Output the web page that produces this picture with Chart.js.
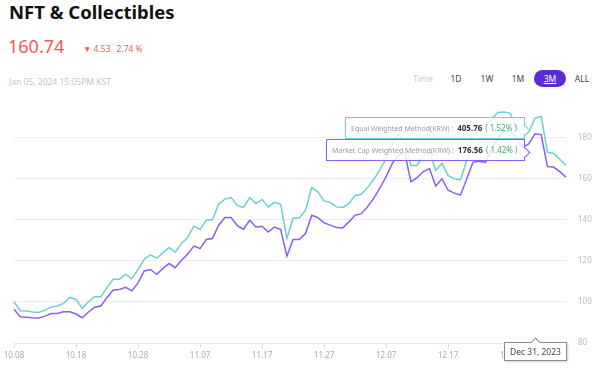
<!DOCTYPE html>
<html>
<head>
<meta charset="utf-8">
<script src="https://cdn.jsdelivr.net/npm/chart.js@4.4.1/dist/chart.umd.min.js"></script>
<style>
  body { margin: 0; width: 599px; height: 373px; background: #fff; font-family: "Noto Sans", sans-serif; position: relative; overflow: hidden; }
  #title { position: absolute; left: 9px; top: -1px; font-size: 18.5px; font-weight: bold; color: #111; }
  #price { position: absolute; left: 8px; top: 34px; font-size: 18px; color: #f05a5a; }
  #change { position: absolute; left: 83px; top: 43px; font-size: 8.5px; color: #f05a5a; }
  #change span { margin-right: 6px; }
  #stamp { position: absolute; left: 9px; top: 76px; font-size: 8.5px; color: #c4c4c4; }
  .btn { position: absolute; top: 70px; height: 17px; line-height: 17px; font-size: 8.5px; color: #444; text-align: center; }
  .btn.off { color: #ccc; }
  .btn.on { background: #5b2bd6; color: #fff; border-radius: 9px; text-decoration: underline; }
  #wrap { position: absolute; left: 0; top: 86px; width: 599px; height: 287px; }
  .tip { position: absolute; height: 22px; box-sizing: border-box; background: rgba(255,255,255,0.82); border: 1.5px solid; font-size: 8px; line-height: 19px; padding: 0 7px 0 5px; white-space: nowrap; }
  .tip::after { content: ''; position: absolute; right: -5px; top: 9px; width: 6px; height: 6px; background: #fff; border-right: 1.5px solid; border-top: 1.5px solid; border-color: inherit; transform: rotate(45deg); }
  .tip .k { color: #9a9a9a; font-size: 7px; }
  .tip .v { color: #333; font-weight: bold; margin-left: 4px; }
  .tip .p { color: #3dae6e; margin-left: 3px; }
  #tipA { border-color: #6dcfd2; }
  #tipB { border-color: #8b5cf6; }
  #dateTip { position: absolute; height: 19px; box-sizing: border-box; background: #fff; border: 1px solid #8c8c8c; box-shadow: 1px 1px 2px rgba(0,0,0,0.18); font-size: 8.5px; line-height: 17px; color: #444; padding: 0 5px; white-space: nowrap; }
  #dateTip::before { content: ''; position: absolute; left: 27px; top: -4px; width: 6px; height: 6px; background: #fff; border-left: 1px solid #8c8c8c; border-top: 1px solid #8c8c8c; transform: rotate(45deg); }
</style>
</head>
<body>
<div id="title">NFT &amp; Collectibles</div>
<div id="price">160.74</div>
<div id="change"><span>▼ 4.53</span><span>2.74 %</span></div>
<div id="stamp">Jan 05, 2024 15:05PM KST</div>
<div class="btn off" style="left:411px;width:24px">Time</div>
<div class="btn" style="left:446px;width:20px">1D</div>
<div class="btn" style="left:477px;width:20px">1W</div>
<div class="btn" style="left:508px;width:20px">1M</div>
<div class="btn on" style="left:534px;width:32px">3M</div>
<div class="btn" style="left:572px;width:20px">ALL</div>
<div id="wrap"><canvas id="nftChart"></canvas></div>
<div class="tip" id="tipA"><span class="k">Equal Weighted Method(KRW) :</span><span class="v">405.76</span><span class="p">( 1.52% )</span></div>
<div class="tip" id="tipB"><span class="k">Market Cap Weighted Method(KRW) :</span><span class="v">176.56</span><span class="p">( 1.42% )</span></div>
<div id="dateTip">Dec 31, 2023</div>
<script>
const dates = [
  '10.08','10.09','10.10','10.11','10.12','10.13','10.14','10.15','10.16','10.17','10.18','10.19','10.20','10.21','10.22','10.23','10.24','10.25','10.26','10.27','10.28','10.29','10.30','10.31',
  '11.01','11.02','11.03','11.04','11.05','11.06','11.07','11.08','11.09','11.10','11.11','11.12','11.13','11.14','11.15','11.16','11.17','11.18','11.19','11.20','11.21','11.22','11.23','11.24','11.25','11.26','11.27','11.28','11.29','11.30',
  '12.01','12.02','12.03','12.04','12.05','12.06','12.07','12.08','12.09','12.10','12.11','12.12','12.13','12.14','12.15','12.16','12.17','12.18','12.19','12.20','12.21','12.22','12.23','12.24','12.25','12.26','12.27','12.28','12.29','12.30','12.31',
  '01.01','01.02','01.03','01.04','01.05'
];
const tickLabels = ['10.08','10.18','10.28','11.07','11.17','11.27','12.07','12.17','12.27'];
const yTicks = [80, 100, 120, 140, 160, 180];

// equal weighted (teal) and market cap weighted (purple), daily
const equalWeighted = [
  100.1, 95.7, 95.6, 95.1, 94.9, 96.0, 97.6, 98.0, 99.3, 102.2,
  101.2, 96.9, 100.1, 102.5, 102.5, 107.1, 111.0, 111.1, 113.5, 111.3,
  115.8, 120.8, 122.9, 121.3, 123.9, 126.5, 124.2, 128.5, 131.4, 136.9,
  135.3, 139.8, 140.1, 147.6, 150.1, 150.8, 147.0, 146.0, 150.8, 147.9,
  149.9, 146.3, 148.5, 147.6, 130.9, 140.9, 140.9, 144.7, 155.7, 153.6,
  149.2, 148.5, 146.3, 146.0, 147.9, 151.9, 152.4, 155.7, 159.6, 164.4,
  169.8, 177.1, 182.0, 178.0, 166.5, 166.5, 171.4, 173.0, 164.0, 167.5,
  161.5, 160.0, 159.5, 169.0, 181.0, 184.0, 186.0, 189.0, 192.3, 192.5,
  192.0, 185.0, 181.5, 182.7, 189.5, 190.3, 173.0, 172.3, 169.5, 166.5
];
const marketCapWeighted = [
  96.4, 92.8, 92.6, 92.3, 92.2, 93.1, 94.4, 94.4, 95.2, 95.2,
  94.1, 92.3, 95.1, 97.4, 98.0, 102.2, 105.8, 106.1, 107.1, 105.4,
  109.3, 115.1, 115.8, 113.5, 116.3, 118.7, 116.7, 120.3, 123.3, 127.2,
  126.0, 130.4, 130.9, 137.4, 141.1, 141.1, 137.2, 135.4, 139.8, 136.5,
  136.9, 134.1, 136.5, 135.3, 122.3, 130.4, 130.4, 133.3, 142.2, 141.1,
  138.5, 137.4, 136.2, 136.0, 139.0, 142.2, 143.0, 146.3, 150.5, 155.5,
  161.0, 167.5, 171.5, 172.5, 158.5, 160.5, 163.5, 165.0, 156.5, 160.0,
  154.4, 153.0, 152.0, 160.0, 168.0, 168.5, 168.0, 174.0, 180.0, 183.0,
  183.0, 180.0, 175.4, 177.0, 181.9, 181.5, 166.0, 165.7, 163.5, 160.74
];
const hoverDate = '12.31';

// place the hover boxes against the scale position of the hovered day
const hoverBoxes = {
  id: 'hoverBoxes',
  afterRender(chart) {
    const top = 86;
    const x = chart.scales.x.getPixelForValue(dates.indexOf(hoverDate));
    const y180 = chart.scales.y.getPixelForValue(180);
    const area = chart.chartArea;
    const a = document.getElementById('tipA');
    const b = document.getElementById('tipB');
    const d = document.getElementById('dateTip');
    a.style.left = (x - 10 - a.offsetWidth) + 'px';
    a.style.top = (top + y180 - 21) + 'px';
    b.style.left = (x - 10 - b.offsetWidth) + 'px';
    b.style.top = (top + y180 + 1) + 'px';
    d.style.left = (x - 31) + 'px';
    d.style.top = (top + area.bottom - 1) + 'px';
  }
};

const ctx = document.getElementById('nftChart').getContext('2d');
new Chart(ctx, {
  type: 'line',
  data: {
    labels: dates,
    datasets: [
      { label: 'Equal Weighted Method(KRW)', data: equalWeighted, borderColor: '#6dcfd2', borderWidth: 1.5, pointRadius: 0, tension: 0 },
      { label: 'Market Cap Weighted Method(KRW)', data: marketCapWeighted, borderColor: '#8b5cf6', borderWidth: 1.5, pointRadius: 0, tension: 0 }
    ]
  },
  options: {
    responsive: true,
    maintainAspectRatio: false,
    animation: false,
    layout: { padding: { left: 14, right: 0, top: 2, bottom: 8 } },
    plugins: { legend: { display: false }, tooltip: { enabled: false } },
    scales: {
      x: {
        grid: { drawOnChartArea: false, tickLength: 5, color: '#dddddd' },
        border: { color: '#e8e8e8' },
        ticks: {
          autoSkip: false, maxRotation: 0, padding: 3, color: '#aaaaaa',
          font: { family: 'Noto Sans', size: 8 },
          callback: function (v, i) { return tickLabels.includes(dates[i]) ? dates[i] : null; }
        },
        afterFit(scale) { scale.height = 22; }
      },
      y: {
        position: 'right',
        min: 80,
        max: 197,
        afterBuildTicks(scale) { scale.ticks = yTicks.map(v => ({ value: v })); },
        grid: { color: '#eeeeee', drawTicks: false },
        border: { display: false },
        ticks: { padding: 12, color: '#bbbbbb', font: { family: 'Noto Sans', size: 8 } },
        afterFit(scale) { scale.width = 33; }
      }
    }
  },
  plugins: [hoverBoxes]
});
</script>
</body>
</html>
